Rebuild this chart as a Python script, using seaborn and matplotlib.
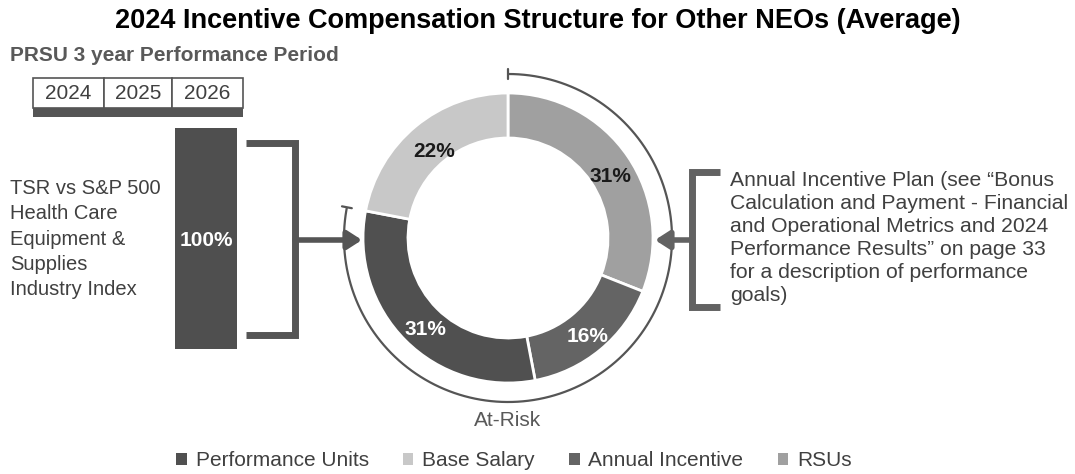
import numpy as np
import matplotlib
matplotlib.use("Agg")
import matplotlib.pyplot as plt
from matplotlib.patches import Rectangle, Patch
import seaborn as sns

sns.set_theme(style="white")
plt.rcParams['font.family'] = ['Liberation Sans', 'DejaVu Sans']

# ---- data ----
slice_labels = ["RSUs", "Annual Incentive", "Performance Units", "Base Salary"]
slice_values = [31, 16, 31, 22]
slice_colors = ["#a0a0a0", "#646464", "#505050", "#c8c8c8"]
label_colors = ["#1a1a1a", "white", "white", "#1a1a1a"]
legend_order = ["Performance Units", "Base Salary", "Annual Incentive", "RSUs"]
years = ["2024", "2025", "2026"]
prsu_weight = "100%"
title = "2024 Incentive Compensation Structure for Other NEOs (Average)"
left_text = "TSR vs S&P 500\nHealth Care\nEquipment &\nSupplies\nIndustry Index"
right_text = ("Annual Incentive Plan (see \u201cBonus\nCalculation and Payment - Financial\n"
              "and Operational Metrics and 2024\nPerformance Results\u201d on page 33\n"
              "for a description of performance\ngoals)")

W, H = 1075, 474
fig = plt.figure(figsize=(W / 100, H / 100), dpi=100)
ax = fig.add_axes([0, 0, 1, 1])
ax.set_xlim(0, W)
ax.set_ylim(0, H)
ax.set_aspect('equal')
ax.axis('off')

def Y(py):
    return H - py

dark = "#555555"
txt = "#404040"
cx, cy = 508, Y(238)
R_out, width = 145, 45

wedges, texts, autotexts = ax.pie(
    slice_values, colors=slice_colors, startangle=90, counterclock=False,
    center=(cx, cy), radius=R_out, autopct='%d%%', pctdistance=0.83,
    wedgeprops=dict(width=width, edgecolor='white', linewidth=2),
    textprops=dict(fontsize=15, fontweight='bold'))
for t, c in zip(autotexts, label_colors):
    t.set_color(c)
    x0, y0 = t.get_position()
    t.set_position((x0 + 3, y0 - 6))
ax.set_xlim(0, W)
ax.set_ylim(0, H)

# At-Risk outer arc: from top clockwise to end of Performance Units
at_risk_frac = sum(slice_values[:3]) / sum(slice_values)
a_end = 90 - 360 * at_risk_frac
Ra = 164
ang = np.radians(np.linspace(90, a_end, 300))
ax.plot(cx + Ra * np.cos(ang), cy + Ra * np.sin(ang), color=dark, lw=1.6, solid_capstyle='butt')
for a in (90, a_end):
    ar = np.radians(a)
    ax.plot([cx + (Ra - 5) * np.cos(ar), cx + (Ra + 5) * np.cos(ar)],
            [cy + (Ra - 5) * np.sin(ar), cy + (Ra + 5) * np.sin(ar)], color=dark, lw=1.6)
ax.text(cx, Y(420), "At-Risk", ha='center', va='center', fontsize=15, color="#595959")

# Title
fig.text(0.5, Y(21) / H, title, ha='center', va='center', fontsize=19.5, fontweight='bold', color='black')
ax.text(10, Y(55), "PRSU 3 year Performance Period", ha='left', va='center', fontsize=15,
        fontweight='bold', color="#595959")

# Year table
bx0, bx1, by0, by1 = 33, 243, 78, 108
divs = [33, 104, 172, 243]
for i, yr in enumerate(years):
    ax.add_patch(Rectangle((divs[i], Y(by1)), divs[i + 1] - divs[i], by1 - by0,
                           facecolor='white', edgecolor=dark, lw=1.2))
    ax.text((divs[i] + divs[i + 1]) / 2, Y((by0 + by1) / 2), yr, ha='center', va='center',
            fontsize=15, color=txt)
ax.add_patch(Rectangle((bx0, Y(117)), bx1 - bx0, 9, facecolor=dark, edgecolor='none'))

# PRSU bar
ax.add_patch(Rectangle((175, Y(349)), 62, 221, facecolor="#4f4f4f", edgecolor='none'))
ax.text(206, Y(240), prsu_weight, ha='center', va='center', fontsize=15, fontweight='bold', color='white')

ax.text(10, Y(239), left_text, ha='left', va='center', fontsize=14.5, color=txt, linespacing=1.42)

# Left bracket + arrow
blw = 5
ax.plot([246, 295, 295, 246], [Y(143), Y(143), Y(335), Y(335)], color=dark, lw=blw,
        solid_joinstyle='miter', solid_capstyle='butt')
ax.annotate("", xy=(362, Y(240)), xytext=(295, Y(240)),
            arrowprops=dict(arrowstyle="-|>,head_length=0.7,head_width=0.45", color=dark, lw=4,
                            shrinkA=0, shrinkB=0))

# Right bracket + arrow
ax.plot([720, 692, 692, 720], [Y(172), Y(172), Y(307), Y(307)], color="#626262", lw=blw,
        solid_joinstyle='miter', solid_capstyle='butt')
ax.annotate("", xy=(655, Y(240)), xytext=(692, Y(240)),
            arrowprops=dict(arrowstyle="-|>,head_length=0.7,head_width=0.45", color="#626262", lw=4,
                            shrinkA=0, shrinkB=0))
ax.text(730, Y(238), right_text, ha='left', va='center', fontsize=15.2, color=txt, linespacing=1.27)

# Legend
cmap = dict(zip(slice_labels, slice_colors))
handles = [Patch(facecolor=cmap[n], edgecolor='none', label=n) for n in legend_order]
fig.legend(handles=handles, loc='center', bbox_to_anchor=(514 / W, (H - 461) / H), ncol=4,
           frameon=False, fontsize=15, handlelength=0.5, handleheight=0.5,
           handletextpad=0.42, columnspacing=1.65, labelcolor=txt)

fig.savefig("out.png", dpi=100)
